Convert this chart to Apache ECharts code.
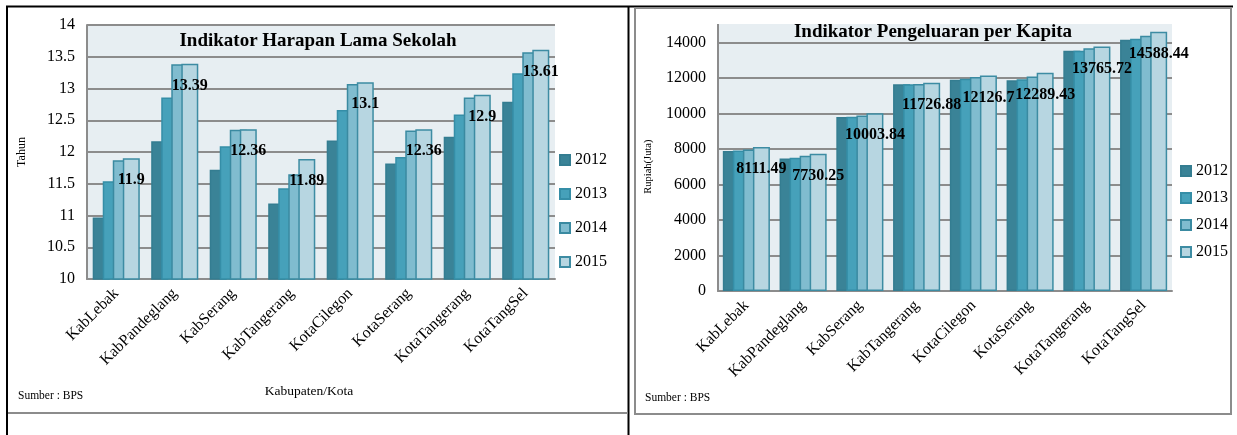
<!DOCTYPE html>
<html>
<head>
<meta charset="utf-8">
<script src="https://cdn.jsdelivr.net/npm/echarts@6/dist/echarts.min.js"></script>
<style>
  html, body { margin: 0; padding: 0; background: #ffffff; }
  #chart { width: 1237px; height: 435px; }
</style>
</head>
<body>
<div id="chart"></div>
<script>
// Kabupaten/Kota in Banten
const categories = ['KabLebak', 'KabPandeglang', 'KabSerang', 'KabTangerang',
  'KotaCilegon', 'KotaSerang', 'KotaTangerang', 'KotaTangSel'];
const years = ['2012', '2013', '2014', '2015'];

// Harapan Lama Sekolah (tahun)
const hls2012 = [10.97, 12.17, 11.72, 11.19, 12.18, 11.82, 12.24, 12.79];
const hls2013 = [11.54, 12.86, 12.09, 11.43, 12.66, 11.92, 12.59, 13.24];
const hls2014 = [11.87, 13.38, 12.35, 11.65, 13.07, 12.34, 12.86, 13.57];
const hls2015 = [11.9, 13.39, 12.36, 11.89, 13.1, 12.36, 12.9, 13.61];

// Pengeluaran per kapita (Rupiah, juta)
const ppk2012 = [7875, 7460, 9790, 11645, 11890, 11870, 13520, 14140];
const ppk2013 = [7910, 7500, 9810, 11640, 11945, 11925, 13520, 14195];
const ppk2014 = [7965, 7610, 9880, 11650, 12040, 12075, 13670, 14365];
const ppk2015 = [8111.49, 7730.25, 10003.84, 11726.88, 12126.7, 12289.43, 13765.72, 14588.44];

// value axes: [min, max, interval]
const hlsTicks = [10, 14, 0.5];
const ppkTicks = [0, 14000, 2000];

const fillColors = ['#3a8397', '#46a1ba', '#80bccf', '#b7d6e1'];
const edgeColors = ['#347d91', '#358ea7', '#3a8aa1', '#3d8ca3'];
const SERIF = '"Liberation Serif", "Times New Roman", serif';
const GRID_LINE = '#8c8c8c';
const WALL = '#e7eef2';

function barSeries(name, data, idx, axisIndex, labelled) {
  return {
    name: name,
    type: 'bar',
    xAxisIndex: axisIndex,
    yAxisIndex: axisIndex,
    data: data,
    barWidth: 17,
    barGap: '-41%',
    // the spending chart's tallest columns rise into the wall above the 14000 line
    clip: axisIndex === 0,
    itemStyle: { color: fillColors[idx], borderColor: edgeColors[idx], borderWidth: 1.5 },
    label: labelled ? {
      show: true,
      position: 'insideTop',
      distance: 14,
      color: '#000',
      fontFamily: SERIF,
      fontWeight: 'bold',
      fontSize: 16
    } : { show: false },
    emphasis: { disabled: true },
    animation: false
  };
}

const hlsSets = [hls2012, hls2013, hls2014, hls2015];
const ppkSets = [ppk2012, ppk2013, ppk2014, ppk2015];
const series = [];
years.forEach((y, i) => series.push(barSeries(y, hlsSets[i], i, 0, i === 3)));
years.forEach((y, i) => series.push(barSeries(y, ppkSets[i], i, 1, i === 3)));

function catAxis(gridIndex) {
  return {
    type: 'category',
    gridIndex: gridIndex,
    data: categories,
    axisLine: { lineStyle: { color: GRID_LINE, width: 2 } },
    axisTick: { show: false },
    axisLabel: { interval: 0, rotate: 45, margin: 12, color: '#000', fontFamily: SERIF, fontSize: 16 }
  };
}

function valAxis(gridIndex, ticks, name, nameGap, nameSize) {
  return {
    type: 'value',
    gridIndex: gridIndex,
    min: ticks[0], max: ticks[1], interval: ticks[2],
    name: name,
    nameLocation: 'middle',
    nameRotate: 90,
    nameGap: nameGap,
    nameTextStyle: { color: '#000', fontFamily: SERIF, fontSize: nameSize },
    axisLine: { show: true, lineStyle: { color: GRID_LINE, width: 2 } },
    axisTick: { show: false },
    axisLabel: { margin: 12, color: '#000', fontFamily: SERIF, fontSize: 16, formatter: v => String(v) },
    splitLine: { show: true, lineStyle: { color: GRID_LINE, width: 2 } }
  };
}

const legendBase = {
  orient: 'vertical',
  padding: 0,
  itemWidth: 10,
  itemHeight: 10,
  itemGap: 18,
  icon: 'rect',
  selectedMode: false,
  textStyle: { color: '#000', fontFamily: SERIF, fontSize: 16 },
  data: years
};

const chart = echarts.init(document.getElementById('chart'), null, { renderer: 'canvas' });
chart.setOption({
  animation: false,
  backgroundColor: '#ffffff',
  grid: [
    { left: 87, top: 25, width: 468, height: 254 },
    { left: 718, top: 42.3, width: 454, height: 248.7 }
  ],
  xAxis: [catAxis(0), catAxis(1)],
  yAxis: [
    valAxis(0, hlsTicks, 'Tahun', 59, 12),
    valAxis(1, ppkTicks, 'Rupiah(Juta)', 64, 10.5)
  ],
  legend: [
    Object.assign({}, legendBase, { left: 559, top: 152, itemGap: 18 }),
    Object.assign({}, legendBase, { left: 1180, top: 163, itemGap: 11 })
  ],
  graphic: [
    // plot walls
    { type: 'rect', z: -10, shape: { x: 87, y: 25, width: 468, height: 254 }, style: { fill: WALL } },
    { type: 'rect', z: -10, shape: { x: 718, y: 24, width: 454, height: 267 }, style: { fill: WALL } },
    { type: 'line', z: -5, shape: { x1: 718, y1: 24, x2: 718, y2: 43 }, style: { stroke: GRID_LINE, lineWidth: 2 } },
    // table frame
    { type: 'line', z: 5, shape: { x1: 6, y1: 6.5, x2: 1233, y2: 6.5 }, style: { stroke: '#000', lineWidth: 2 } },
    { type: 'line', z: 5, shape: { x1: 7, y1: 6, x2: 7, y2: 435 }, style: { stroke: '#000', lineWidth: 2 } },
    { type: 'line', z: 5, shape: { x1: 628.5, y1: 6, x2: 628.5, y2: 435 }, style: { stroke: '#000', lineWidth: 2 } },
    { type: 'line', z: 5, shape: { x1: 8, y1: 413, x2: 628, y2: 413 }, style: { stroke: '#8c8c8c', lineWidth: 2 } },
    { type: 'rect', z: 5, shape: { x: 635, y: 8, width: 596, height: 406 }, style: { fill: null, stroke: '#8c8c8c', lineWidth: 2 } },
    // titles
    { type: 'text', z: 6, style: { text: 'Indikator Harapan Lama Sekolah', x: 318, y: 41, align: 'center', verticalAlign: 'middle', font: 'bold 19px ' + SERIF, fill: '#000' } },
    { type: 'text', z: 6, style: { text: 'Indikator Pengeluaran per Kapita', x: 933, y: 32, align: 'center', verticalAlign: 'middle', font: 'bold 19px ' + SERIF, fill: '#000' } },
    // axis caption and sources
    { type: 'text', z: 6, style: { text: 'Kabupaten/Kota', x: 309, y: 391, align: 'center', verticalAlign: 'middle', font: '13.5px ' + SERIF, fill: '#000' } },
    { type: 'text', z: 6, style: { text: 'Sumber : BPS', x: 18, y: 396, align: 'left', verticalAlign: 'middle', font: '11.5px ' + SERIF, fill: '#000' } },
    { type: 'text', z: 6, style: { text: 'Sumber : BPS', x: 645, y: 398, align: 'left', verticalAlign: 'middle', font: '11.5px ' + SERIF, fill: '#000' } }
  ],
  series: series
});
</script>
</body>
</html>
